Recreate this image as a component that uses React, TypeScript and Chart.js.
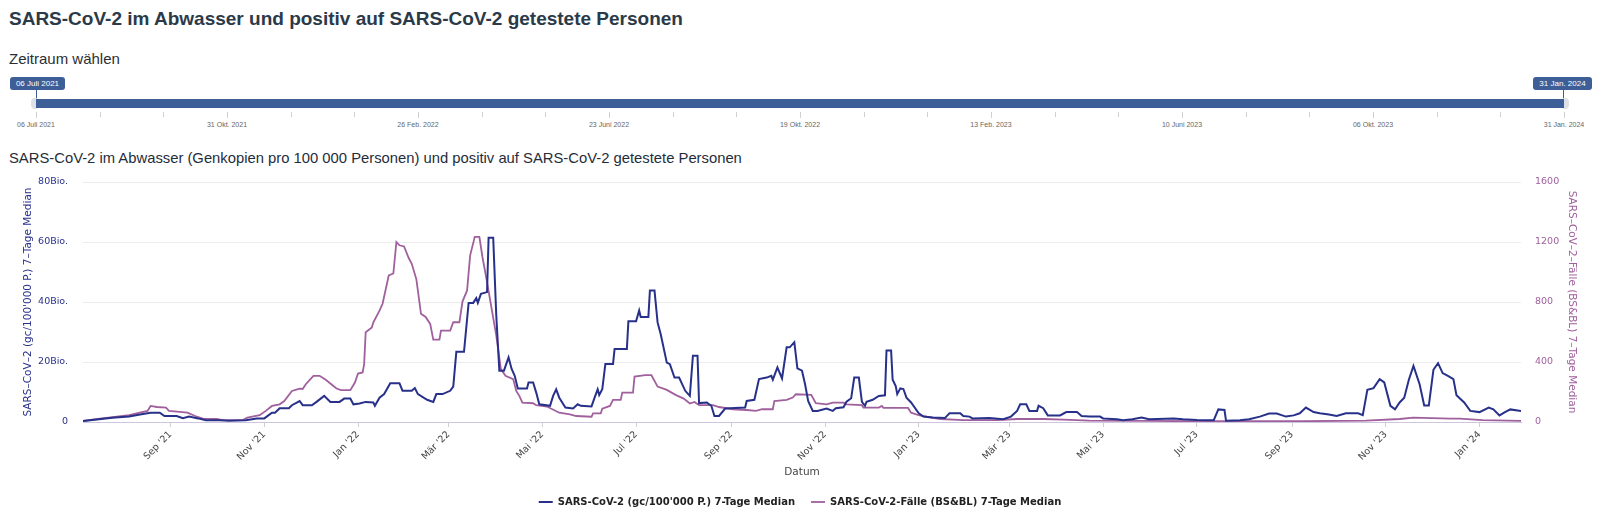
import React, { useEffect, useRef } from "react";
import { Chart, registerables } from "chart.js";

Chart.register(...registerables);

// ---- data ----
const START_DATE = "2021-07-06";
const LAST_DAY = 936;

const X_TICK_DATES = [
  "2021-09-01", "2021-11-01", "2022-01-01", "2022-03-01", "2022-05-01",
  "2022-07-01", "2022-09-01", "2022-11-01", "2023-01-01", "2023-03-01",
  "2023-05-01", "2023-07-01", "2023-09-01", "2023-11-01", "2024-01-01",
];
const X_TICK_LABELS = [
  "Sep '21", "Nov '21", "Jan '22", "Mär '22", "Mai '22",
  "Jul '22", "Sep '22", "Nov '22", "Jan '23", "Mär '23",
  "Mai '23", "Jul '23", "Sep '23", "Nov '23", "Jan '24",
];

// [days since START_DATE, Bio. gene copies per 100'000 persons]
const WASTEWATER: [number, number][] = [
  [0, 0.3], [19, 1.4], [30, 1.8], [39, 2.7], [44, 3.1], [50, 3.1], [53, 2.0], [61, 2.0], [65, 1.3], [69, 1.8],
  [75, 1.2], [80, 0.6], [89, 0.6], [95, 0.4], [106, 0.6], [113, 1.2], [118, 1.2], [123, 3.1], [125, 3.1], [128, 4.6],
  [134, 4.6], [136, 5.6], [141, 7.0], [143, 5.6], [149, 5.6], [152, 6.7], [157, 8.7], [161, 6.7], [167, 6.7], [170, 7.8],
  [174, 7.8], [176, 5.9], [180, 6.2], [184, 6.7], [189, 6.5], [190, 5.4], [193, 8.1], [196, 9.3], [200, 12.9], [206, 12.9],
  [208, 10.4], [214, 10.4], [216, 11.3], [218, 9.3], [224, 7.4], [228, 6.7], [230, 9.3], [234, 9.3], [239, 10.4], [241, 11.8],
  [243, 23.4], [248, 23.4], [251, 39.7], [254, 39.7], [256, 41.3], [257, 39.7], [259, 42.7], [263, 43.3], [264, 61.4], [267, 61.4],
  [269, 35.5], [271, 17.1], [274, 17.1], [277, 21.5], [279, 17.7], [281, 15.4], [283, 11.2], [289, 11.2], [290, 13.2], [293, 13.2],
  [295, 9.8], [297, 5.9], [304, 5.4], [306, 8.7], [308, 10.9], [310, 8.1], [314, 4.8], [319, 4.5], [322, 5.9], [324, 5.4],
  [331, 5.2], [333, 8.1], [335, 10.9], [336, 9.0], [338, 10.9], [340, 19.3], [345, 19.3], [346, 24.3], [354, 24.3], [355, 33.6],
  [360, 33.6], [362, 37.2], [363, 35.0], [368, 35.0], [369, 43.8], [372, 43.8], [374, 33.2], [376, 29.3], [380, 19.8], [382, 19.3],
  [385, 14.8], [388, 14.8], [392, 10.4], [395, 8.7], [397, 22.1], [400, 22.1], [401, 6.3], [406, 6.5], [409, 5.4], [411, 2.0],
  [414, 2.0], [418, 4.5], [431, 4.8], [432, 7.0], [437, 7.4], [440, 14.3], [445, 14.8], [448, 15.4], [449, 14.1], [452, 18.2],
  [455, 14.5], [458, 24.9], [460, 24.9], [463, 26.6], [465, 17.9], [468, 17.1], [470, 12.6], [472, 7.0], [475, 3.7], [478, 3.7],
  [484, 4.5], [488, 3.7], [490, 4.6], [495, 4.9], [497, 6.8], [500, 7.9], [502, 14.8], [505, 14.8], [507, 6.7], [509, 5.4],
  [510, 6.7], [514, 7.4], [518, 8.7], [522, 8.9], [523, 23.8], [526, 23.8], [527, 14.1], [529, 12.0], [530, 9.3], [532, 11.2],
  [534, 11.0], [536, 8.1], [539, 6.5], [544, 2.9], [547, 1.8], [553, 1.5], [561, 1.3], [564, 2.9], [571, 2.9], [573, 2.0],
  [577, 1.8], [579, 1.2], [590, 1.3], [599, 0.9], [604, 1.8], [608, 3.7], [610, 5.9], [614, 5.9], [616, 3.7], [621, 3.7],
  [622, 5.4], [625, 4.6], [628, 2.2], [636, 2.2], [640, 3.3], [647, 3.3], [650, 2.0], [655, 1.8], [662, 1.8], [664, 1.2],
  [673, 0.9], [677, 0.6], [683, 0.9], [689, 1.5], [694, 0.9], [710, 1.2], [716, 0.9], [725, 0.7], [736, 0.6], [739, 4.2],
  [743, 4.0], [744, 0.4], [753, 0.6], [759, 0.9], [766, 1.8], [772, 2.8], [777, 2.8], [783, 1.8], [788, 2.2], [792, 2.9],
  [796, 4.8], [801, 3.3], [805, 2.9], [811, 2.5], [816, 2.0], [822, 2.9], [830, 2.9], [833, 2.3], [836, 10.7], [840, 11.3],
  [844, 14.3], [847, 13.2], [851, 5.4], [854, 4.2], [857, 6.5], [860, 8.1], [863, 14.1], [866, 18.7], [870, 12.6], [873, 5.5],
  [876, 5.5], [879, 17.4], [882, 19.6], [885, 16.3], [889, 15.2], [892, 14.3], [894, 8.9], [899, 6.5], [903, 3.7], [909, 3.3],
  [915, 4.8], [918, 4.2], [922, 2.2], [925, 3.1], [929, 4.2], [936, 3.7],
];

// [days since START_DATE, cases BS&BL 7-day median]
const CASES: [number, number][] = [
  [0, 7], [11, 22], [22, 35], [30, 45], [37, 62], [42, 74], [44, 107], [48, 100], [54, 96], [56, 74],
  [63, 67], [68, 62], [73, 40], [78, 22], [87, 20], [91, 13], [104, 13], [107, 29], [115, 45], [119, 74],
  [123, 107], [128, 118], [131, 140], [136, 207], [141, 223], [143, 220], [145, 252], [150, 308], [154, 308], [158, 281],
  [162, 248], [165, 223], [168, 212], [174, 212], [177, 263], [179, 323], [182, 330], [183, 386], [184, 598], [188, 631],
  [189, 665], [193, 743], [195, 788], [199, 977], [202, 990], [204, 1200], [206, 1178], [209, 1170], [212, 1093], [214, 1055],
  [217, 951], [220, 721], [223, 700], [226, 654], [228, 549], [232, 549], [233, 609], [239, 609], [241, 665], [245, 665],
  [247, 803], [250, 877], [252, 1111], [255, 1234], [258, 1234], [260, 1100], [263, 933], [266, 754], [269, 576], [272, 353],
  [275, 308], [280, 286], [282, 207], [284, 174], [286, 129], [293, 125], [295, 112], [302, 103], [310, 62], [317, 51],
  [321, 40], [331, 35], [332, 58], [337, 58], [338, 89], [343, 107], [345, 147], [350, 147], [351, 196], [358, 196],
  [359, 303], [366, 312], [370, 312], [374, 236], [380, 214], [386, 179], [391, 156], [395, 123], [398, 134], [401, 112],
  [410, 112], [414, 100], [423, 85], [432, 80], [438, 74], [442, 85], [449, 85], [450, 140], [458, 147], [462, 163],
  [464, 185], [474, 181], [477, 125], [484, 118], [488, 129], [495, 129], [497, 118], [507, 112], [508, 96], [518, 96],
  [520, 107], [521, 94], [537, 94], [539, 62], [544, 45], [549, 35], [558, 20], [573, 13], [595, 13], [608, 20],
  [625, 20], [638, 16], [655, 9], [694, 7], [727, 5], [766, 5], [792, 5], [835, 9], [857, 20], [866, 29],
  [890, 22], [896, 22], [911, 13], [936, 7],
];

const SLIDER_LABELS = [
  "06 Juli 2021", "31 Okt. 2021", "26 Feb. 2022", "23 Juni 2022", "19 Okt. 2022",
  "13 Feb. 2023", "10 Juni 2023", "06 Okt. 2023", "31 Jan. 2024",
];
const SLIDER_START = "06 Juli 2021";
const SLIDER_END = "31 Jan. 2024";

const PAGE_TITLE = "SARS-CoV-2 im Abwasser und positiv auf SARS-CoV-2 getestete Personen";
const RANGE_TITLE = "Zeitraum wählen";
const CHART_TITLE =
  "SARS-CoV-2 im Abwasser (Genkopien pro 100 000 Personen) und positiv auf SARS-CoV-2 getestete Personen";
const WW_LABEL = "SARS-CoV-2 (gc/100'000 P.) 7-Tage Median";
const CASES_LABEL = "SARS-CoV-2-Fälle (BS&BL) 7-Tage Median";
const WW_AXIS_TITLE = "SARS–CoV–2 (gc/100'000 P.) 7–Tage Median";
const CASES_AXIS_TITLE = "SARS–CoV–2–Fälle (BS&BL) 7–Tage Median";
const X_AXIS_TITLE = "Datum";

// ---- styling ----
const NAVY = "#28318a";
const PURPLE = "#a0609d";
const SLIDER_BLUE = "#3d5e97";
const FONT = "'DejaVu Sans', sans-serif";
const SANS = "'Liberation Sans', Arial, Helvetica, sans-serif";

function dayOffset(iso: string): number {
  return Math.round((Date.parse(iso) - Date.parse(START_DATE)) / 86400000);
}

function RangeSlider() {
  const barLeft = 36;
  const barRight = 1564;
  const step = (barRight - barLeft) / 24;
  const ticks = Array.from({ length: 25 }, (_, k) => barLeft + k * step);
  const badge = (text: string, left: number, width: number) => (
    <div
      style={{
        position: "absolute",
        left,
        top: 77,
        width,
        height: 13,
        background: SLIDER_BLUE,
        color: "#fff",
        borderRadius: 3,
        font: `8px ${SANS}`,
        lineHeight: "13px",
        textAlign: "center",
      }}
    >
      {text}
    </div>
  );
  return (
    <>
      {badge(SLIDER_START, 10, 55)}
      {badge(SLIDER_END, 1533, 59)}
      <div style={{ position: "absolute", left: barLeft, top: 90, width: 1, height: 10, background: SLIDER_BLUE }} />
      <div style={{ position: "absolute", left: barRight - 1, top: 90, width: 1, height: 10, background: SLIDER_BLUE }} />
      <div style={{ position: "absolute", left: 31, top: 98, width: 8, height: 11, background: "#dde0e6", borderRadius: 4 }} />
      <div style={{ position: "absolute", left: barRight - 3, top: 98, width: 8, height: 11, background: "#dde0e6", borderRadius: 4 }} />
      <div style={{ position: "absolute", left: barLeft, top: 99, width: barRight - barLeft, height: 9, background: SLIDER_BLUE }} />
      {ticks.map((x, k) => (
        <div
          key={k}
          style={{ position: "absolute", left: Math.round(x), top: 112, width: 1, height: k % 3 === 0 ? 6 : 5, background: "#d0d0d0" }}
        />
      ))}
      {SLIDER_LABELS.map((t, i) => (
        <div
          key={t}
          style={{
            position: "absolute",
            left: barLeft + i * step * 3 - 40,
            top: 121,
            width: 80,
            textAlign: "center",
            font: `7px ${SANS}`,
            color: "#666",
          }}
        >
          {t}
        </div>
      ))}
    </>
  );
}

export default function App() {
  const canvasRef = useRef<HTMLCanvasElement | null>(null);

  useEffect(() => {
    const canvas = canvasRef.current;
    if (!canvas) return;
    const tickValues = X_TICK_DATES.map(dayOffset);
    const chart = new Chart(canvas, {
      type: "line",
      data: {
        datasets: [
          {
            label: WW_LABEL,
            data: WASTEWATER.map(([x, y]) => ({ x, y })),
            yAxisID: "y",
            borderColor: NAVY,
            backgroundColor: NAVY,
            borderWidth: 2,
            pointRadius: 0,
            tension: 0,
          },
          {
            label: CASES_LABEL,
            data: CASES.map(([x, y]) => ({ x, y })),
            yAxisID: "y2",
            borderColor: PURPLE,
            backgroundColor: PURPLE,
            borderWidth: 1.8,
            pointRadius: 0,
            tension: 0,
          },
        ],
      },
      options: {
        animation: false,
        responsive: false,
        maintainAspectRatio: false,
        layout: { padding: { top: 14, left: 0, right: 0, bottom: 0 } },
        plugins: {
          tooltip: { enabled: false },
          legend: {
            position: "bottom",
            labels: {
              usePointStyle: true,
              pointStyle: "line",
              pointStyleWidth: 14,
              color: "#222",
              padding: 16,
              font: { family: FONT, size: 10, weight: "bold" },
            },
          },
        },
        scales: {
          x: {
            type: "linear",
            min: 0,
            max: LAST_DAY,
            afterBuildTicks: (scale: any) => {
              scale.ticks = tickValues.map((v) => ({ value: v }));
            },
            afterFit: (scale: any) => {
              scale.height = 59;
            },
            ticks: {
              autoSkip: false,
              minRotation: 45,
              maxRotation: 45,
              padding: 2,
              color: "#444",
              font: { family: FONT, size: 9.5 },
              callback: (_v: any, i: number) => X_TICK_LABELS[i],
            },
            grid: { drawOnChartArea: false, drawTicks: true, tickLength: 5, color: "#cfcfcf" },
            border: { color: "#cdc6dc", width: 1 },
            title: {
              display: true,
              text: X_AXIS_TITLE,
              color: "#444",
              font: { family: FONT, size: 10.5 },
              padding: { top: 0, bottom: 2 },
            },
          },
          y: {
            position: "left",
            min: 0,
            max: 80,
            afterFit: (scale: any) => {
              scale.width = 83;
              scale.paddingTop = 6;
              scale.paddingBottom = 6;
            },
            ticks: {
              stepSize: 20,
              color: NAVY,
              padding: 15,
              font: { family: FONT, size: 9.5 },
              callback: (v: any) => (Number(v) === 0 ? "0" : `${v}Bio.`),
            },
            grid: { color: "#ececec", drawTicks: false },
            border: { display: false },
            title: {
              display: true,
              text: WW_AXIS_TITLE,
              color: NAVY,
              font: { family: FONT, size: 10.5 },
              padding: { top: 22, bottom: 0 },
            },
          },
          y2: {
            position: "right",
            min: 0,
            max: 1600,
            afterFit: (scale: any) => {
              scale.width = 79;
              scale.paddingTop = 6;
              scale.paddingBottom = 6;
            },
            ticks: {
              stepSize: 400,
              color: PURPLE,
              padding: 14,
              font: { family: FONT, size: 9.5 },
              callback: (v: any) => String(v),
            },
            grid: { drawOnChartArea: false, drawTicks: false },
            border: { display: false },
            title: {
              display: true,
              text: CASES_AXIS_TITLE,
              color: PURPLE,
              font: { family: FONT, size: 10.5 },
              padding: { top: 22, bottom: 0 },
            },
          },
        },
      },
    });
    return () => chart.destroy();
  }, []);

  return (
    <div style={{ position: "relative", width: 1600, height: 517, background: "#fff", overflow: "hidden" }}>
      <style>{`html,body{margin:0;padding:0;overflow:hidden;background:#fff}`}</style>
      <div
        style={{
          position: "absolute",
          left: 9,
          top: 7,
          font: `bold 19px ${SANS}`,
          lineHeight: "23px",
          color: "#2b3a48",
          whiteSpace: "nowrap",
        }}
      >
        {PAGE_TITLE}
      </div>
      <div
        style={{
          position: "absolute",
          left: 9,
          top: 50,
          font: `15px ${SANS}`,
          lineHeight: "18px",
          color: "#2a2f35",
          whiteSpace: "nowrap",
        }}
      >
        {RANGE_TITLE}
      </div>
      <RangeSlider />
      <div
        style={{
          position: "absolute",
          left: 9,
          top: 149,
          font: `14.8px ${SANS}`,
          lineHeight: "18px",
          color: "#1f2d3b",
          whiteSpace: "nowrap",
        }}
      >
        {CHART_TITLE}
      </div>
      <canvas
        ref={canvasRef}
        width={1600}
        height={349}
        style={{ position: "absolute", left: 0, top: 168, width: 1600, height: 349 }}
      />
    </div>
  );
}
